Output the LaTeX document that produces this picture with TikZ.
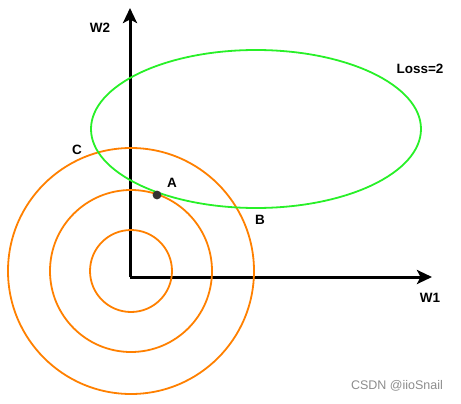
\documentclass[tikz,border=0pt]{standalone}
\usepackage{fontspec}
\setmainfont{Liberation Sans}
\usetikzlibrary{arrows.meta}
\definecolor{lossgreen}{RGB}{40,240,40}
\definecolor{regorange}{RGB}{255,128,0}
\begin{document}
\begin{tikzpicture}[x=1pt,y=-1pt,
  axis/.style={line width=3pt,-{Stealth[length=15pt,width=14pt,inset=3.5pt]}},
  lbl/.style={font=\fontsize{13.5}{15}\selectfont\bfseries},
  ring/.style={regorange,line width=1.8pt}]
\useasboundingbox (0,0) rectangle (461,404);

\coordinate (O) at (130,277);
\coordinate (X) at (432,277);
\coordinate (Y) at (130,8);
\coordinate (M) at (131,271);

\draw[axis] (O) -- (X);
\draw[axis] (O) -- (Y);

\foreach \r in {41,81,123}
  \draw[ring] (M) circle (\r);

\draw[lossgreen,line width=1.8pt] (256,129) ellipse (165 and 79);

\fill[black!80] (157,195) circle (4.4);

\node[lbl] (w2) at (100,28) {W2};
\node[lbl] (w1) at (430,298) {W1};
\node[lbl] (loss) at (420,69) {Loss=2};
\node[lbl] (c) at (77,150) {C};
\node[lbl] (a) at (172,183) {A};
\node[lbl] (b) at (260,220) {B};
\node[black!45,font=\fontsize{12.5}{14}\selectfont] (mark) at (397,386) {CSDN @iioSnail};
\end{tikzpicture}
\end{document}
